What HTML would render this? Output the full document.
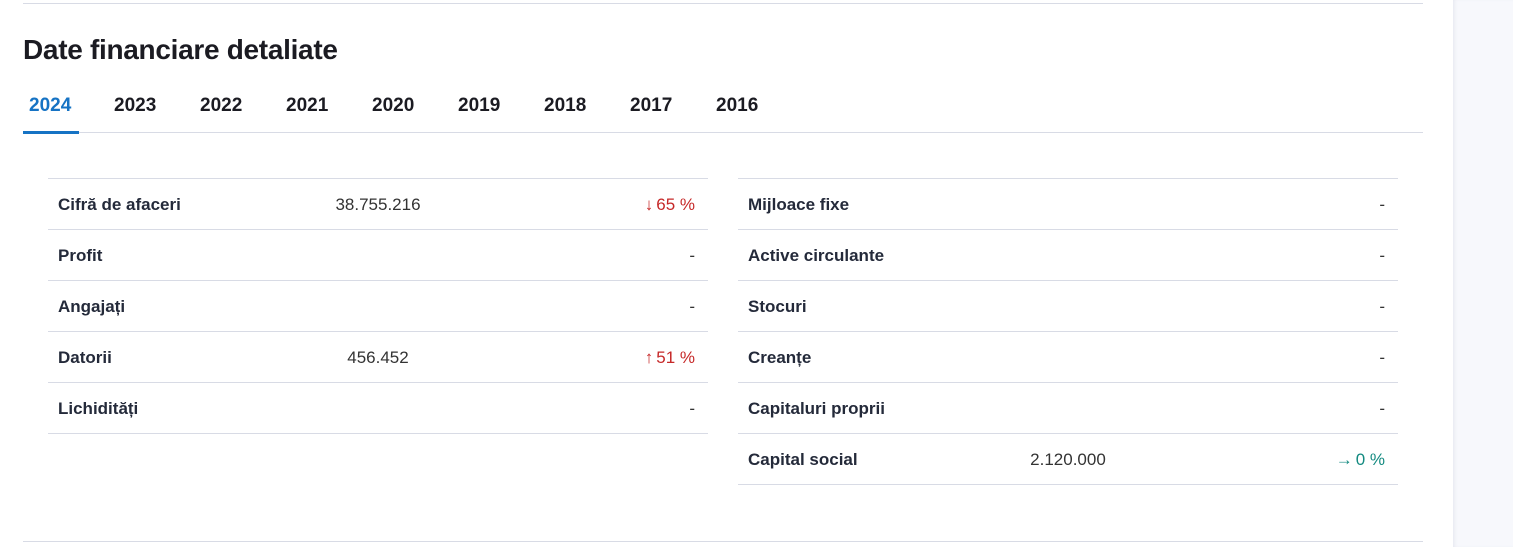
<!DOCTYPE html>
<html><head><meta charset="utf-8"><style>
*{margin:0;padding:0;box-sizing:border-box}
body{width:1513px;height:547px;background:#fff;font-family:"Liberation Sans",sans-serif;color:#1f2330;position:relative;overflow:hidden}
.side{position:absolute;left:1453px;top:0;width:60px;height:547px;background:#f7f8fc;box-shadow:inset 3px 0 4px -2px #e3e5ee}
.hl{position:absolute;height:1px;background:#d8dbe5}
h1{position:absolute;left:23px;top:34px;font-size:28px;font-weight:bold;color:#1b1b22;letter-spacing:-0.3px}
.tab{position:absolute;top:95px;font-size:19px;font-weight:bold;color:#1b1b22}
.tab.a{color:#1673c4}
.row{position:absolute;height:51px;border-bottom:1px solid #d8dbe5;font-size:16px}
.row .l{position:absolute;left:10px;top:16px;font-weight:bold;color:#242a3a;font-size:17px}
.row .v{position:absolute;width:200px;text-align:center;top:16px;color:#333;font-size:17px}
.row .c{position:absolute;right:13px;top:16px;color:#333;font-size:17px;line-height:20px}
.ar{margin-right:3px}
.red{color:#c62828!important}.grn{color:#138a80!important}
</style></head><body>
<div class="side"></div>
<div class="hl" style="left:23px;top:3px;width:1400px"></div>
<h1>Date financiare detaliate</h1>
<div class="tab a" style="left:29px">2024</div>
<div class="tab" style="left:114px">2023</div>
<div class="tab" style="left:200px">2022</div>
<div class="tab" style="left:286px">2021</div>
<div class="tab" style="left:372px">2020</div>
<div class="tab" style="left:458px">2019</div>
<div class="tab" style="left:544px">2018</div>
<div class="tab" style="left:630px">2017</div>
<div class="tab" style="left:716px">2016</div>
<div class="hl" style="left:23px;top:132px;width:1400px"></div>
<div style="position:absolute;left:23px;top:131px;width:56px;height:3px;background:#1673c4"></div>
<div class="hl" style="left:48px;top:178px;width:660px"></div>
<div class="hl" style="left:738px;top:178px;width:660px"></div>

<div class="row" style="left:48px;top:179px;width:660px"><span class="l">Cifră de afaceri</span><span class="v" style="left:230px">38.755.216</span><span class="c red"><span class="ar">↓</span>65 %</span></div>
<div class="row" style="left:48px;top:230px;width:660px"><span class="l">Profit</span><span class="c">-</span></div>
<div class="row" style="left:48px;top:281px;width:660px"><span class="l">Angajați</span><span class="c">-</span></div>
<div class="row" style="left:48px;top:332px;width:660px"><span class="l">Datorii</span><span class="v" style="left:230px">456.452</span><span class="c red"><span class="ar">↑</span>51 %</span></div>
<div class="row" style="left:48px;top:383px;width:660px"><span class="l">Lichidități</span><span class="c">-</span></div>

<div class="row" style="left:738px;top:179px;width:660px"><span class="l">Mijloace fixe</span><span class="c">-</span></div>
<div class="row" style="left:738px;top:230px;width:660px"><span class="l">Active circulante</span><span class="c">-</span></div>
<div class="row" style="left:738px;top:281px;width:660px"><span class="l">Stocuri</span><span class="c">-</span></div>
<div class="row" style="left:738px;top:332px;width:660px"><span class="l">Creanțe</span><span class="c">-</span></div>
<div class="row" style="left:738px;top:383px;width:660px"><span class="l">Capitaluri proprii</span><span class="c">-</span></div>
<div class="row" style="left:738px;top:434px;width:660px"><span class="l">Capital social</span><span class="v" style="left:230px">2.120.000</span><span class="c grn"><span class="ar">→</span>0 %</span></div>

<div class="hl" style="left:23px;top:541px;width:1400px"></div>
</body></html>
